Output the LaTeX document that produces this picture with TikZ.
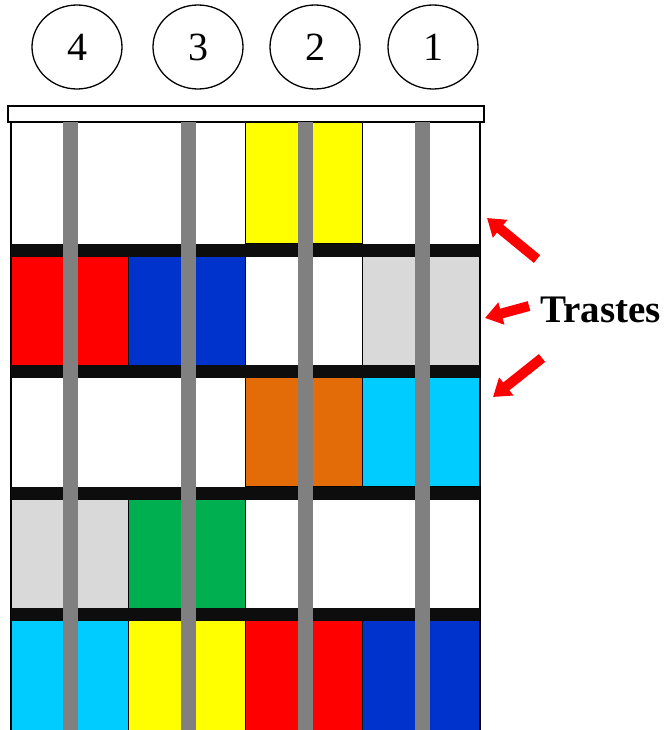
\documentclass[tikz,border=0pt]{standalone}
\usepackage{fontspec}
\setmainfont{Liberation Serif}
\usetikzlibrary{arrows.meta,shapes.geometric}
\definecolor{redclr}{HTML}{FF0000}
\definecolor{blueclr}{HTML}{0033CC}
\definecolor{yelclr}{HTML}{FFFF00}
\definecolor{greyclr}{HTML}{D9D9D9}
\definecolor{orgclr}{HTML}{E36C09}
\definecolor{cyanclr}{HTML}{00CCFF}
\definecolor{grnclr}{HTML}{00B050}
\definecolor{fretclr}{HTML}{0D0D0D}
\definecolor{stringclr}{HTML}{808080}

\begin{document}
\begin{tikzpicture}[x=1pt, y=-1pt,
  cellbox/.style={draw=black, line width=1.4pt},
  fretbar/.style={fill=fretclr},
  stringbar/.style={fill=stringclr},
  numring/.style={ellipse, draw, line width=1.3pt, minimum width=90pt,
    minimum height=84pt, inner sep=0pt, font=\fontsize{40}{44}\selectfont},
  pointer/.style={-{Triangle[length=17pt,width=22pt]}, line width=10pt, redclr}]

\clip (0,0) rectangle (667,730);

% --- string numbers ---------------------------------------------------------
\foreach \n/\x in {4/77, 3/198, 2/315, 1/433}
  \node[numring] (num\n) at (\x,47) {\n};

% --- nut --------------------------------------------------------------------
\draw[fill=white, line width=2pt] (8,106) rectangle (484,122);

% --- fingerboard --------------------------------------------------------------
\draw[fill=white, line width=1.6pt] (11,122) rectangle (480,745);

% --- coloured cells: column / top / bottom / colour --------------------------
\foreach \c/\top/\bot/\clr in {
    3/122/244/yelclr,
    1/256/365.5/redclr, 2/256/365.5/blueclr, 4/256/365.5/greyclr,
    3/377.5/487/orgclr, 4/377.5/487/cyanclr,
    1/499/608.5/greyclr, 2/499/608.5/grnclr,
    1/620.5/745/cyanclr, 2/620.5/745/yelclr, 3/620.5/745/redclr, 4/620.5/745/blueclr}
  \draw[cellbox, fill=\clr] ({11+117.25*(\c-1)},\top) rectangle ({11+117.25*\c},\bot);

% --- frets ------------------------------------------------------------------
\foreach \i in {0,...,3}
  \fill[fretbar] (11,{243.5+121.5*\i}) rectangle (480,{256.5+121.5*\i});

% --- strings, on top of the frets -------------------------------------------
\foreach \x in {70.5, 188, 305, 422.5}
  \fill[stringbar] ({\x-7.5},122) rectangle ({\x+7.5},745);

% --- label and its pointers ---------------------------------------------------
\node[font=\fontsize{39}{42}\selectfont\bfseries, anchor=west] (trastes) at (537,310) {Trastes};

\coordinate (tailA) at (537,259);
\coordinate (tipA)  at (487,218);
\coordinate (tailB) at (529,306);
\coordinate (tipB)  at (485,318);
\coordinate (tailC) at (542,358);
\coordinate (tipC)  at (493,397);
\foreach \p in {A,B,C}
  \draw[pointer] (tail\p) -- (tip\p);

\end{tikzpicture}
\end{document}
